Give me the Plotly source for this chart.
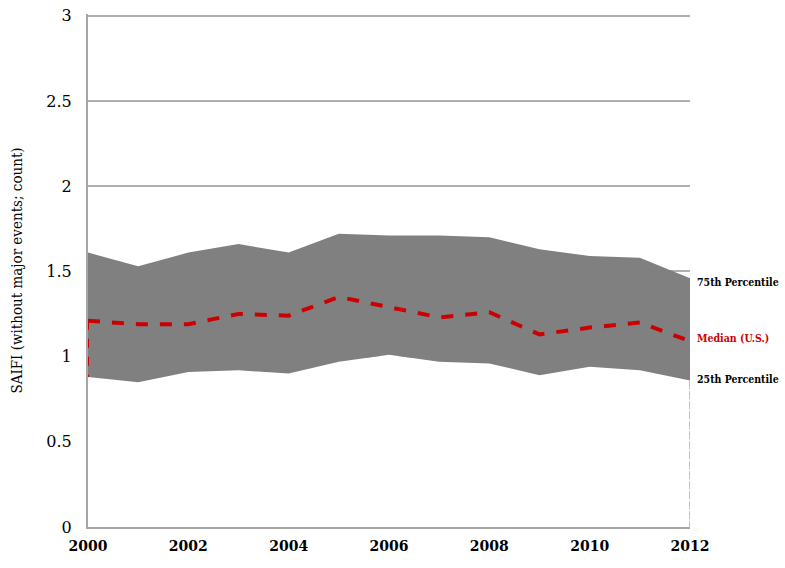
import plotly.graph_objects as go

years = list(range(2000, 2013))
p75 = [1.61, 1.53, 1.61, 1.66, 1.61, 1.72, 1.71, 1.71, 1.70, 1.63, 1.59, 1.58, 1.46]
median = [1.21, 1.19, 1.19, 1.25, 1.24, 1.35, 1.29, 1.23, 1.26, 1.13, 1.17, 1.20, 1.09]
p25 = [0.88, 0.85, 0.91, 0.92, 0.90, 0.97, 1.01, 0.97, 0.96, 0.89, 0.94, 0.92, 0.86]

x_ticks = [2000, 2002, 2004, 2006, 2008, 2010, 2012]
y_ticks = [0, 0.5, 1, 1.5, 2, 2.5, 3]
y_tick_text = ["0", "0.5", "1", "1.5", "2", "2.5", "3"]

serif = "DejaVu Serif"
serif_narrow = "DejaVu Serif Condensed, DejaVu Serif"

fig = go.Figure()

# white base up to the 25th percentile, gray band up to the 75th
fig.add_trace(go.Scatter(x=years, y=p25, mode="lines", line=dict(width=0),
                         fill="tozeroy", fillcolor="white", hoverinfo="skip"))
fig.add_trace(go.Scatter(x=years, y=p75, mode="lines", line=dict(width=0),
                         fill="tonexty", fillcolor="#808080", hoverinfo="skip"))

# drop lines at the ends of the median series
fig.add_trace(go.Scatter(x=[years[0], years[0]], y=[median[0], p25[0]], mode="lines",
                         line=dict(color="#cc0000", width=2, dash="dash")))
fig.add_trace(go.Scatter(x=[years[-1], years[-1]], y=[median[-1], 0], mode="lines",
                         line=dict(color="#d0607a", width=1, dash="8px,2px")))

fig.add_trace(go.Scatter(x=years, y=median, mode="lines",
                         line=dict(color="#cc0000", width=4, dash="dash")))

labels = [("75th Percentile", 1.44, "black"),
          ("Median (U.S.)", 1.11, "#cc0000"),
          ("25th Percentile", 0.87, "black")]
for text, yv, col in labels:
    fig.add_annotation(x=1, xref="paper", y=yv, yref="y", text="<b>" + text + "</b>",
                       showarrow=False, xanchor="left", xshift=5,
                       font=dict(family=serif_narrow, size=10.5, color=col))

fig.update_layout(
    width=785, height=568,
    margin=dict(l=88, r=95, t=14, b=41),
    plot_bgcolor="white", paper_bgcolor="white",
    showlegend=False,
    font=dict(family=serif),
    xaxis=dict(range=[2000, 2012], tickvals=x_ticks, ticktext=[f"<b>{v}</b>" for v in x_ticks],
               showgrid=False, zeroline=False, showline=True, linecolor="#a6a6a6",
               linewidth=2, ticks="", ticklabelstandoff=5, automargin=False,
               tickfont=dict(family=serif, size=14, color="black")),
    yaxis=dict(range=[0, 3.01], tickvals=y_ticks, ticktext=y_tick_text,
               showgrid=True, gridcolor="#b0b0b0", gridwidth=1.5, zeroline=False,
               showline=True, linecolor="#a6a6a6", linewidth=2, ticks="",
               ticklabelstandoff=11, automargin=False,
               tickfont=dict(family=serif, size=16, color="black"),
               title=dict(text="SAIFI (without major events; count)", standoff=20,
                          font=dict(family=serif_narrow, size=15, color="black"))),
)

fig.write_html("out.html")
